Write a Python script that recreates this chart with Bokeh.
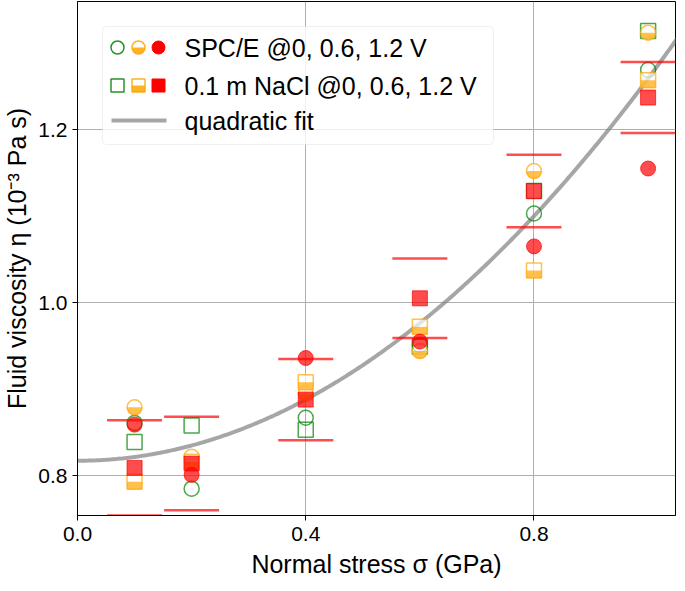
import numpy as np
from bokeh.plotting import figure
from bokeh.models import Range1d, FixedTicker, BoxAnnotation
from bokeh.core.properties import value
from bokeh.embed import file_html
from bokeh.resources import INLINE

# ---------------- data ----------------
stress = [0.1, 0.2, 0.4, 0.6, 0.8, 1.0]            # normal stress (GPa)
spce_0V = [0.861, 0.785, 0.867, 0.951, 1.103, 1.269]
spce_06V = [0.879, 0.822, 0.895, 0.944, 1.152, 1.312]
spce_12V = [0.859, 0.801, 0.936, 0.955, 1.065, 1.155]
nacl_0V = [0.839, 0.858, 0.853, 0.949, 1.129, 1.314]
nacl_06V = [0.793, 0.816, 0.908, 0.972, 1.037, 1.257]
nacl_12V = [0.809, 0.814, 0.888, 1.005, 1.129, 1.237]
nacl_12V_err = [0.055, 0.054, 0.047, 0.046, 0.042, 0.041]
fit_coef = [0.8173, 0.0, 0.4417]                    # c0 + c1*x + c2*x^2

x_ticks = [0.0, 0.4, 0.8]
x_tick_labels = ["0.0", "0.4", "0.8"]
y_ticks = [0.8, 1.0, 1.2]
y_tick_labels = ["0.8", "1.0", "1.2"]
legend_labels = ["SPC/E @0, 0.6, 1.2 V", "0.1 m NaCl @0, 0.6, 1.2 V", "quadratic fit"]

# ---------------- layout / style ----------------
X_MIN, X_MAX = 0.0, 1.048
Y_MIN, Y_MAX = 0.754, 1.348
FW, FH = 598, 514
FONT = "Liberation Sans"
GREEN, ORANGE, RED = "green", "orange", "red"
ALPHA = 0.7
MS = 15       # data marker size (px)
LMS = 13      # legend marker size (px)
CAP = 55      # error-cap width (px)

p = figure(frame_width=FW, frame_height=FH,
           x_range=Range1d(X_MIN, X_MAX), y_range=Range1d(Y_MIN, Y_MAX),
           output_backend="svg", toolbar_location=None,
           min_border_left=70, min_border_right=1, min_border_top=1, min_border_bottom=60,
           background_fill_color="white", border_fill_color="white")
p.outline_line_color = "black"
p.outline_line_width = 1
p.outline_line_alpha = 1

for ax in (p.xaxis, p.yaxis):
    ax.axis_line_color = "black"
    ax.major_tick_line_color = "black"
    ax.major_tick_in = 0
    ax.major_tick_out = 5
    ax.minor_tick_line_color = None
    ax.major_label_text_font = FONT
    ax.major_label_text_font_size = "21px"
    ax.major_label_text_color = "black"
    ax.axis_label_text_font = FONT
    ax.axis_label_text_font_size = "25px"
    ax.axis_label_text_font_style = "normal"
    ax.axis_label_text_color = "black"

p.xaxis.ticker = FixedTicker(ticks=x_ticks)
p.yaxis.ticker = FixedTicker(ticks=y_ticks)
p.xaxis.major_label_overrides = {t: s for t, s in zip(x_ticks, x_tick_labels)}
p.yaxis.major_label_overrides = {t: s for t, s in zip(y_ticks, y_tick_labels)}
p.xaxis.major_label_standoff = 6
p.yaxis.major_label_standoff = 5
p.xaxis.axis_label_standoff = 6
p.yaxis.axis_label_standoff = 4
p.xaxis.axis_label = "Normal stress σ (GPa)"
p.yaxis.axis_label = "Fluid viscosity η (10⁻³ Pa s)"

p.xgrid.ticker = FixedTicker(ticks=x_ticks)
p.ygrid.ticker = FixedTicker(ticks=y_ticks)
for g in (p.xgrid, p.ygrid):
    g.grid_line_color = "#b0b0b0"
    g.grid_line_width = 1

# ---------------- quadratic fit ----------------
xs = np.linspace(X_MIN, X_MAX + 0.01, 300)
ys = np.polyval(fit_coef[::-1], xs)
p.line(xs, ys, line_color="gray", line_alpha=0.7, line_width=4)

# half-marker offset (half of the lower half) in data units
dy = (MS / 4.0) * (Y_MAX - Y_MIN) / FH

# ---------------- 0 V : open green ----------------
p.scatter(stress, spce_0V, marker="circle", size=MS, fill_color=None,
          line_color=GREEN, line_alpha=ALPHA, line_width=1.5)
p.scatter(stress, nacl_0V, marker="square", size=MS, fill_color=None,
          line_color=GREEN, line_alpha=ALPHA, line_width=1.5)

# ---------------- 0.6 V : half-filled orange ----------------
p.scatter(stress, spce_06V, marker="circle", size=MS, fill_color="white",
          fill_alpha=0.7, line_color=None)
p.wedge(stress, spce_06V, radius=MS / 2.0, radius_units="screen",
        start_angle=np.pi, end_angle=2 * np.pi,
        fill_color=ORANGE, fill_alpha=ALPHA, line_color=None)
p.scatter(stress, spce_06V, marker="circle", size=MS, fill_color=None,
          line_color=ORANGE, line_alpha=ALPHA, line_width=1.5)

p.scatter(stress, nacl_06V, marker="square", size=MS, fill_color="white",
          fill_alpha=0.7, line_color=None)
p.rect(stress, np.array(nacl_06V) - dy, width=MS, height=MS / 2.0,
       width_units="screen", height_units="screen",
       fill_color=ORANGE, fill_alpha=ALPHA, line_color=None)
p.scatter(stress, nacl_06V, marker="square", size=MS, fill_color=None,
          line_color=ORANGE, line_alpha=ALPHA, line_width=1.5)

# ---------------- 1.2 V : filled red ----------------
p.scatter(stress, spce_12V, marker="circle", size=MS, fill_color=RED,
          fill_alpha=ALPHA, line_color=RED, line_alpha=ALPHA, line_width=1)
p.scatter(stress, nacl_12V, marker="square", size=MS, fill_color=RED,
          fill_alpha=ALPHA, line_color=RED, line_alpha=ALPHA, line_width=1)

# error caps for NaCl @1.2 V
upper = np.array(nacl_12V) + np.array(nacl_12V_err)
lower = np.array(nacl_12V) - np.array(nacl_12V_err)
p.scatter(stress, upper, marker="dash", size=CAP, line_color=RED,
          line_alpha=ALPHA, line_width=2.5)
p.scatter(stress, lower, marker="dash", size=CAP, line_color=RED,
          line_alpha=ALPHA, line_width=2.5)

# ---------------- custom legend (frame pixel space) ----------------
p.extra_x_ranges = {"px": Range1d(0, FW)}
p.extra_y_ranges = {"px": Range1d(FH, 0)}
kw = dict(x_range_name="px", y_range_name="px")

box = BoxAnnotation(left=25, right=416, top=25, bottom=143,
                    fill_color="white", fill_alpha=0.8,
                    line_color="#cccccc", line_width=1, border_radius=4,
                    level="underlay", **kw)
p.add_layout(box)

LX = [40, 61, 81]
R1, R2, R3 = 46, 84, 119

# row 1: circles
p.scatter([LX[0]], [R1], marker="circle", size=LMS, fill_color=None,
          line_color=GREEN, line_alpha=0.85, line_width=1.5, **kw)
p.scatter([LX[1]], [R1], marker="circle", size=LMS, fill_color="white",
          line_color=None, **kw)
p.wedge([LX[1]], [R1], radius=LMS / 2.0, radius_units="screen",
        start_angle=np.pi, end_angle=2 * np.pi,
        fill_color=ORANGE, fill_alpha=0.85, line_color=None, **kw)
p.scatter([LX[1]], [R1], marker="circle", size=LMS, fill_color=None,
          line_color=ORANGE, line_alpha=0.85, line_width=1.5, **kw)
p.scatter([LX[2]], [R1], marker="circle", size=LMS, fill_color=RED,
          line_color=RED, **kw)

# row 2: squares
p.scatter([LX[0]], [R2], marker="square", size=LMS, fill_color=None,
          line_color=GREEN, line_alpha=0.85, line_width=1.5, **kw)
p.scatter([LX[1]], [R2], marker="square", size=LMS, fill_color="white",
          line_color=None, **kw)
p.rect([LX[1]], [R2 + LMS / 4.0], width=LMS, height=LMS / 2.0,
       width_units="screen", height_units="screen",
       fill_color=ORANGE, fill_alpha=0.85, line_color=None, **kw)
p.scatter([LX[1]], [R2], marker="square", size=LMS, fill_color=None,
          line_color=ORANGE, line_alpha=0.85, line_width=1.5, **kw)
p.scatter([LX[2]], [R2], marker="square", size=LMS, fill_color=RED,
          line_color=RED, **kw)

# row 3: fit line
p.line([34, 89], [R3, R3], line_color="gray", line_alpha=0.7, line_width=4, **kw)

# legend texts
p.text([107, 107, 107], [R1, R2, R3], text=legend_labels,
       text_font=value(FONT), text_font_size="25px", text_color="black",
       text_baseline="middle", text_align="left", **kw)

open("out.html", "w").write(file_html(p, INLINE))
